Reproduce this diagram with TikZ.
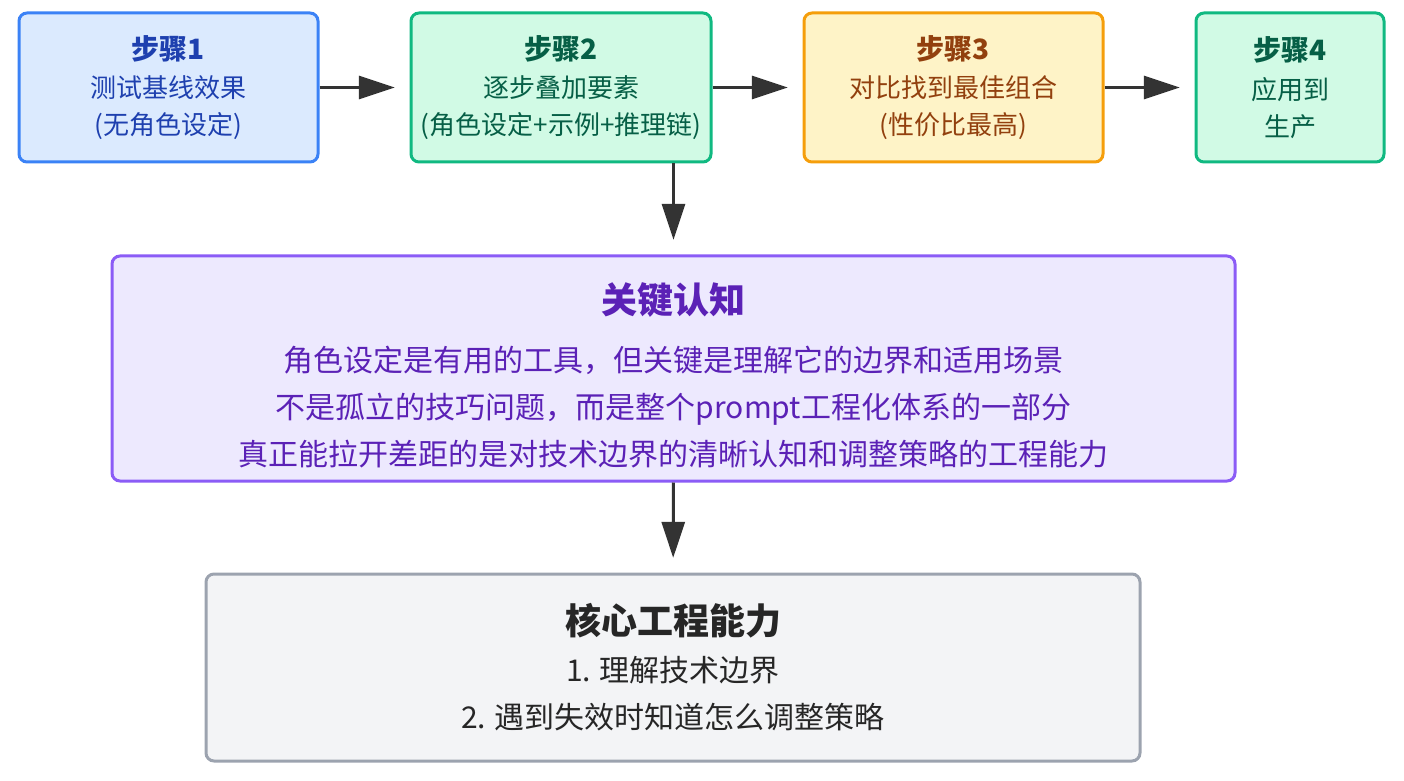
\documentclass[tikz,border=0pt]{standalone}
\usepackage{fontspec}
\setmainfont{Noto Sans CJK SC}
\usetikzlibrary{arrows.meta,positioning}
\definecolor{lineblue}{HTML}{3B82F6}
\definecolor{fillblue}{HTML}{DBEAFE}
\definecolor{textblue}{HTML}{1E40AF}
\definecolor{linegreen}{HTML}{10B981}
\definecolor{fillgreen}{HTML}{D1FAE5}
\definecolor{textgreen}{HTML}{065F46}
\definecolor{lineamber}{HTML}{F59E0B}
\definecolor{fillamber}{HTML}{FEF3C7}
\definecolor{textamber}{HTML}{92400E}
\definecolor{linepurple}{HTML}{8B5CF6}
\definecolor{fillpurple}{HTML}{EDE9FE}
\definecolor{textpurple}{HTML}{5B21B6}
\definecolor{linegray}{HTML}{9CA3AF}
\definecolor{fillgray}{HTML}{F3F4F6}
\definecolor{textgray}{HTML}{262626}
\definecolor{arrowgray}{HTML}{333333}
\tikzset{
  box/.style={rectangle,rounded corners=6pt,line width=2.25pt,align=center,inner sep=3pt,
              minimum height=111.75pt,font=\fontsize{19.5}{27.75}\selectfont},
  bbox/.style={box,draw=lineblue,fill=fillblue,text=textblue,minimum width=224.25pt},
  gbox/.style={box,draw=linegreen,fill=fillgreen,text=textgreen},
  abox/.style={box,draw=lineamber,fill=fillamber,text=textamber,minimum width=224.25pt},
  bigbox/.style={rectangle,rounded corners=6pt,line width=2.25pt,align=center,
                 font=\fontsize{22.5}{35.25}\selectfont},
  fl/.style={-{Triangle[length=27pt,width=17.25pt]},line width=2.25pt,draw=arrowgray,shorten >=11pt},
}
\newcommand{\steptitle}[1]{{\fontsize{21}{27.75}\selectfont\bfseries #1}}
\newcommand{\bigtitle}[1]{{\fontsize{27}{35.25}\selectfont\bfseries #1}}

\begin{document}
\begin{tikzpicture}[x=0.75pt,y=-0.75pt]
  \useasboundingbox (0,0) rectangle (1404,781);
  \node[bbox] (s1) at (168.5,87.5) {\steptitle{步骤1}\\[1pt] 测试基线效果\\ (无角色设定)};
  \node[gbox,minimum width=225pt,right=67.5pt of s1] (s2) {\steptitle{步骤2}\\[1pt] 逐步叠加要素\\ (角色设定+示例+推理链)};
  \node[abox,right=67.5pt of s2] (s3) {\steptitle{步骤3}\\[1pt] 对比找到最佳组合\\ (性价比最高)};
  \node[gbox,minimum width=141pt,right=67.5pt of s3] (s4) {\steptitle{步骤4}\\[1pt] 应用到\\ 生产};
  \node[bigbox,draw=linepurple,fill=fillpurple,text=textpurple,minimum width=842.25pt,
        minimum height=168.75pt] (key) at (673.5,368.5)
        {\rule{0pt}{33pt}\bigtitle{关键认知}\\[8pt]
         角色设定是有用的工具，但关键是理解它的边界和适用场景\\
         不是孤立的技巧问题，而是整个prompt工程化体系的一部分\\
         真正能拉开差距的是对技术边界的清晰认知和调整策略的工程能力};
  \node[bigbox,draw=linegray,fill=fillgray,text=textgray,minimum width=700.5pt,
        minimum height=140.25pt] (core) at (673,667.5)
        {\bigtitle{核心工程能力}\\[0pt]
         1. 理解技术边界\\
         2. 遇到失效时知道怎么调整策略};
  \draw[fl] (s1) -- (s2);
  \draw[fl] (s2) -- (s3);
  \draw[fl] (s3) -- (s4);
  \draw[fl] (s2.south -| key.north) -- (key.north);
  \draw[fl] (key) -- (core);
\end{tikzpicture}
\end{document}
